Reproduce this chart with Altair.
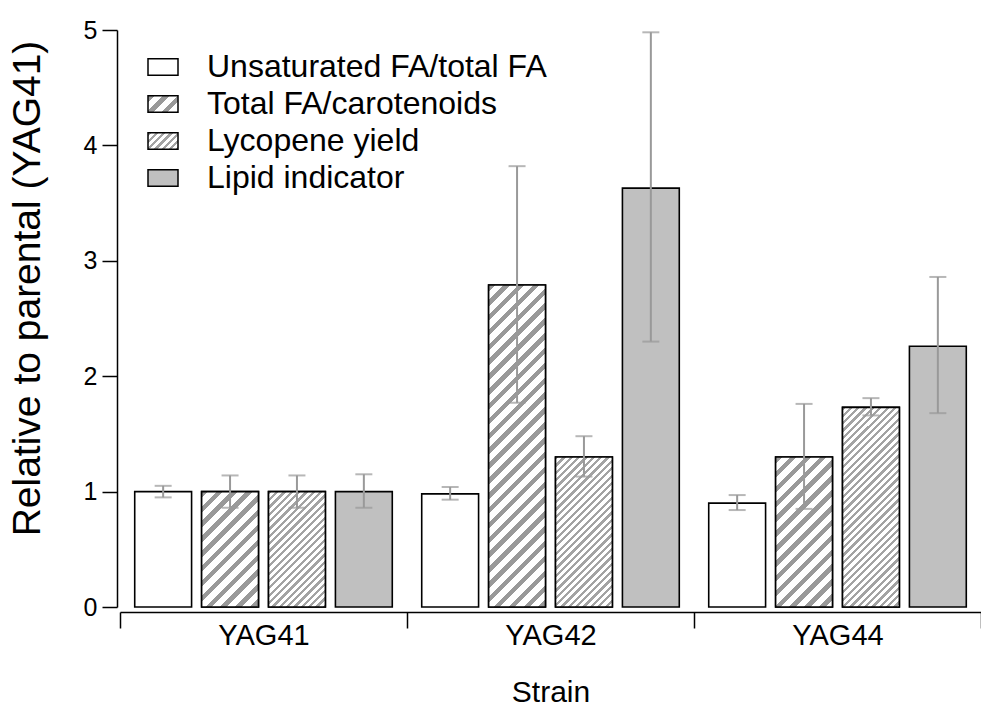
import json
import math
import altair as alt
import pandas as pd

strains = ["YAG41", "YAG42", "YAG44"]
series = ["Unsaturated FA/total FA", "Total FA/carotenoids", "Lycopene yield", "Lipid indicator"]

unsat = [1.00, 0.98, 0.90]
unsat_lo = [0.95, 0.93, 0.84]
unsat_hi = [1.05, 1.04, 0.97]

totalfa = [1.00, 2.79, 1.30]
totalfa_lo = [0.86, 1.77, 0.85]
totalfa_hi = [1.14, 3.82, 1.76]

lyco = [1.00, 1.30, 1.73]
lyco_lo = [0.86, 1.13, 1.66]
lyco_hi = [1.14, 1.48, 1.81]

lipid = [1.00, 3.63, 2.26]
lipid_lo = [0.86, 2.30, 1.68]
lipid_hi = [1.15, 4.98, 2.86]

vals = [unsat, totalfa, lyco, lipid]
los = [unsat_lo, totalfa_lo, lyco_lo, lipid_lo]
his = [unsat_hi, totalfa_hi, lyco_hi, lipid_hi]

rows = []
for si, s in enumerate(strains):
    for ki, k in enumerate(series):
        rows.append({"strain": s, "series": k, "value": vals[ki][si],
                     "lo": los[ki][si], "hi": his[ki][si]})
df = pd.DataFrame(rows)

# ---- layout / style ----
W, H = 861, 577
YMAX = 5
FONT = "Liberation Sans"
P_IN, P_OUT = 0.15, 0.22
band = W / len(strains)
step = band / (len(series) - P_IN + 2 * P_OUT)
BAR_W = step * (1 - P_IN)

# hatch styles: (period px, stripe thickness px, stripe colour)
hatch_style = {
    "Total FA/carotenoids": (10.5, 4.6, "#999999"),
    "Lycopene yield": (5.2, 2.3, "#a3a3a3"),
}


def hatch(w, h, period, thick, color, bg="#ffffff"):
    s = (w + h) / (w * w + h * h)
    L = (w + h) / math.sqrt(2)
    stops = []
    k = 0
    while True:
        a = k * period / L
        if a >= 1:
            break
        b = min(1.0, (k * period + thick) / L)
        c = min(1.0, (k + 1) * period / L)
        stops += [{"offset": round(a, 5), "color": color},
                  {"offset": round(b, 5), "color": color},
                  {"offset": round(b, 5), "color": bg},
                  {"offset": round(c, 5), "color": bg}]
        k += 1
    return {"gradient": "linear", "x1": 0, "y1": 0,
            "x2": round(s * w, 5), "y2": round(s * h, 5), "stops": stops}


LEG_W, LEG_H = 30, 16.5
legend_range = []
for k in series:
    if k in hatch_style:
        p, t, c = hatch_style[k]
        legend_range.append(alt.ExprRef(expr=json.dumps(hatch(LEG_W, LEG_H, p, t, c))))
    elif k == "Lipid indicator":
        legend_range.append("#c0c0c0")
    else:
        legend_range.append("#ffffff")

YTITLE = "Relative to parental (YAG41)"

x_enc = alt.X("strain:N", sort=strains,
              scale=alt.Scale(domain=strains, paddingInner=0, paddingOuter=0),
              axis=alt.Axis(title="Strain", labelAngle=0, offset=5, tickBand="extent",
                            tickSize=16, tickWidth=1.5, tickColor="black",
                            domainColor="black", domainWidth=1.5,
                            labelFont=FONT, labelFontSize=29, labelColor="black",
                            labelPadding=-7, titleFont=FONT, titleFontSize=30,
                            titleFontWeight="normal", titleColor="black",
                            titlePadding=27))
xo_enc = alt.XOffset("series:N", sort=series,
                     scale=alt.Scale(domain=series, paddingInner=P_IN, paddingOuter=P_OUT))
yaxis = alt.Axis(title=YTITLE, values=[0, 1, 2, 3, 4, 5], grid=False, offset=3,
                 tickSize=15, tickWidth=1.5, tickColor="black",
                 domainColor="black", domainWidth=1.5,
                 labelFont=FONT, labelFontSize=25, labelColor="black", labelPadding=5,
                 titleFont=FONT, titleFontSize=39, titleFontWeight="normal",
                 titleColor="black", titlePadding=36, titleY=258)
yscale = alt.Scale(domain=[0, YMAX], nice=False, zero=True)


def yenc(field):
    return alt.Y(f"{field}:Q", scale=yscale, axis=yaxis, title=YTITLE)


base = alt.Chart(df)

bars = base.mark_bar(stroke="black", strokeWidth=1.6).encode(
    x=x_enc, xOffset=xo_enc, y=yenc("value"),
    fill=alt.Fill("series:N", sort=series,
                  scale=alt.Scale(domain=series, range=legend_range),
                  legend=alt.Legend(title=None, orient="none", legendX=27, legendY=21,
                                    symbolType="M-1,-0.55H1V0.55H-1Z", symbolSize=900,
                                    symbolStrokeColor="black", symbolStrokeWidth=1.5,
                                    symbolOpacity=1,
                                    labelFont=FONT, labelFontSize=32, labelColor="black",
                                    labelOffset=28, labelLimit=600, rowPadding=5,
                                    padding=0)),
)

layers = [bars]
for _, r in df.iterrows():
    if r["series"] in hatch_style:
        p, t, c = hatch_style[r["series"]]
        h = r["value"] * H / YMAX
        g = hatch(BAR_W, h, p, t, c)
        layers.append(
            base.transform_filter(
                (alt.datum.strain == r["strain"]) & (alt.datum.series == r["series"])
            ).mark_bar(fill=g, stroke="black", strokeWidth=1.6).encode(
                x=x_enc, xOffset=xo_enc, y=yenc("value"))
        )

err = base.mark_rule(color="#999999", strokeWidth=2).encode(
    x=x_enc, xOffset=xo_enc, y=yenc("lo"), y2="hi:Q")
cap_lo = base.mark_tick(color="#999999", thickness=2, size=17).encode(
    x=x_enc, xOffset=xo_enc, y=yenc("lo"))
cap_hi = base.mark_tick(color="#999999", thickness=2, size=17).encode(
    x=x_enc, xOffset=xo_enc, y=yenc("hi"))
layers += [err, cap_lo, cap_hi]

chart = alt.layer(*layers).properties(
    width=W, height=H,
    autosize=alt.AutoSizeParams(type="none"),
    padding={"left": 120, "top": 30, "right": 0, "bottom": 106},
).configure(background="white", view=alt.ViewConfig(stroke=None))

chart.save("out.html", embed_options={"renderer": "svg", "actions": False})
